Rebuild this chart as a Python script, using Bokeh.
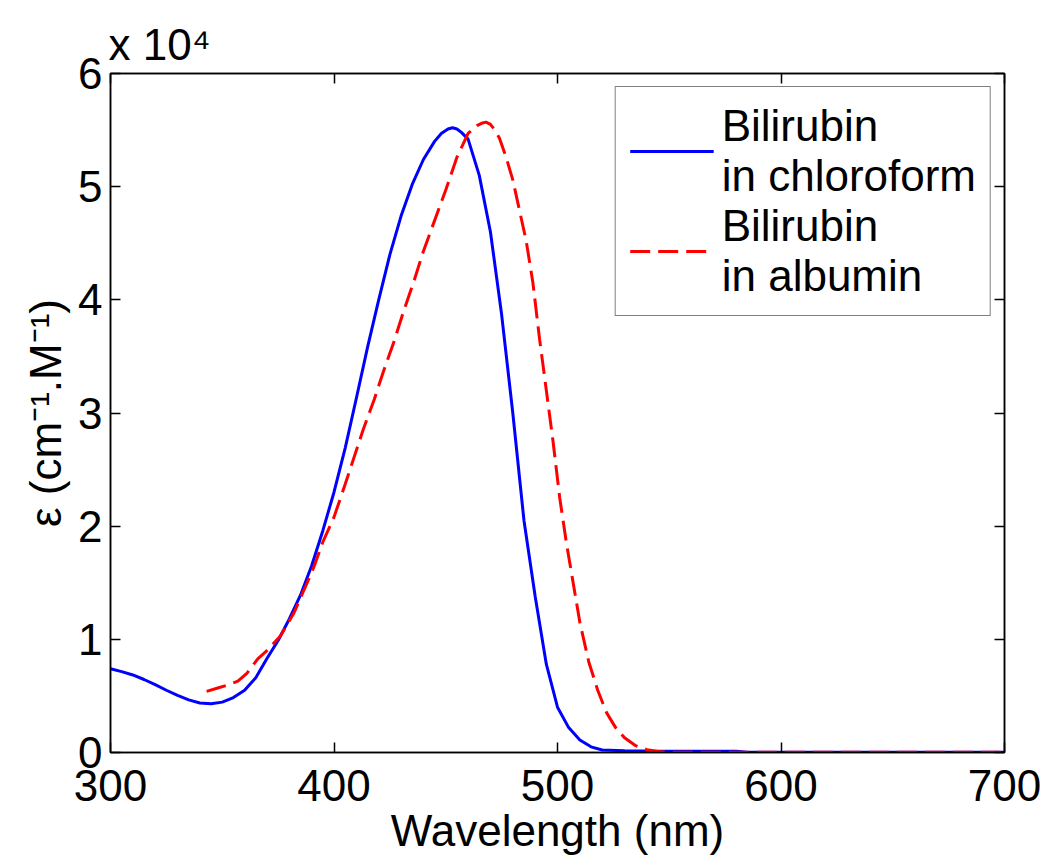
from bokeh.plotting import figure
from bokeh.models import Range1d, LinearAxis, FixedTicker, Legend, LegendItem
from bokeh.embed import file_html
from bokeh.resources import INLINE

# ---- data ----
wl_chloroform = [300, 305, 310, 315, 320, 325, 330, 335, 340, 345, 350, 355, 360, 365,
                 370, 375, 380, 385, 390, 395, 400, 405, 410, 415, 420, 425, 430, 435,
                 440, 445, 448, 451, 453, 455, 457, 460, 465, 470, 475, 480, 485, 490,
                 495, 500, 505, 510, 515, 520, 530, 540, 560, 580, 585, 600, 650, 700]
eps_chloroform = [7400, 7150, 6850, 6450, 6000, 5500, 5050, 4650, 4380, 4300, 4450, 4850,
                  5500, 6600, 8300, 9900, 11800, 13900, 16500, 19600, 23000, 26900, 31300,
                  35800, 40000, 44000, 47400, 50200, 52400, 54000, 54700, 55100, 55200,
                  55100, 54800, 54200, 51000, 46000, 38700, 30000, 20500, 13800, 7800,
                  4000, 2200, 1100, 500, 220, 150, 130, 120, 110, 30, 20, 20, 20]

wl_albumin = [343, 348, 353, 357, 361, 366, 370, 376, 382, 388, 391, 395, 400, 405, 409,
              413, 418, 422, 427, 431, 436, 440, 445, 450, 455, 460, 464, 466, 468, 470,
              472, 474, 477, 480, 483, 486, 489, 492, 495, 498, 501, 504, 507, 510, 514,
              518, 522, 526, 530, 535, 540, 545, 550, 600, 700]
eps_albumin = [5400, 5700, 6000, 6300, 7000, 8300, 9000, 10300, 12300, 15000, 16400, 18600,
               20800, 23700, 26100, 28500, 31200, 33600, 36400, 38900, 41800, 44300, 47000,
               49700, 52600, 54700, 55400, 55600, 55700, 55500, 55000, 54300, 52600, 50600,
               47900, 45200, 41500, 36500, 32000, 27500, 22500, 18500, 15000, 11500, 8000,
               5500, 3500, 2200, 1300, 600, 250, 80, 30, 20, 20]

series_labels = ["Bilirubin\nin chloroform", "Bilirubin\nin albumin"]
x_ticks = [300, 400, 500, 600, 700]
y_ticks = [0, 10000, 20000, 30000, 40000, 50000, 60000]
y_tick_labels = ["0", "1", "2", "3", "4", "5", "6"]
x_label = "Wavelength (nm)"
y_label = "\u03b5 (cm\u207b\u00b9.M\u207b\u00b9)"
multiplier_text = "x 10\u2074"

FONT = "Liberation Sans"
FS = "44px"

p = figure(width=1044, height=859, output_backend="svg", toolbar_location=None,
           x_range=Range1d(300, 700), y_range=Range1d(0, 60000),
           min_border_left=110, min_border_right=40, min_border_top=73,
           min_border_bottom=107)
p.background_fill_color = "white"
p.border_fill_color = "white"
p.outline_line_color = "black"
p.outline_line_width = 1.5
p.xgrid.visible = False
p.ygrid.visible = False

# multiplier shown as the title, top-left like MATLAB's exponent label
p.title.text = multiplier_text
p.title.align = "left"
p.title.offset = -2
p.title.standoff = 9
p.title.text_font = FONT
p.title.text_font_size = FS
p.title.text_font_style = "normal"
p.title.text_color = "black"

r1 = p.line(wl_chloroform, eps_chloroform, line_color="#0000FF", line_width=3)
r2 = p.line(wl_albumin, eps_albumin, line_color="#FF0000", line_width=3,
            line_dash="20 8")


def style_axis(ax, ticks, show_labels):
    ax.ticker = FixedTicker(ticks=ticks)
    ax.minor_tick_line_color = None
    ax.major_tick_in = 10
    ax.major_tick_out = 0
    ax.major_tick_line_color = "black"
    ax.major_tick_line_width = 1.5
    ax.axis_line_color = "black"
    ax.axis_line_width = 1.5
    ax.major_label_text_font = FONT
    ax.major_label_text_color = "black"
    ax.axis_label_text_font = FONT
    ax.axis_label_text_font_size = FS
    ax.axis_label_text_font_style = "normal"
    ax.axis_label_text_color = "black"
    if show_labels:
        ax.major_label_text_font_size = FS
    else:
        ax.major_label_text_font_size = "1px"
        ax.major_label_standoff = 0
        ax.major_label_overrides = {t: "" for t in ticks}


xa = p.xaxis[0]
style_axis(xa, x_ticks, True)
xa.axis_label = x_label
xa.major_label_standoff = 17
xa.axis_label_standoff = 2

ya = p.yaxis[0]
style_axis(ya, y_ticks, True)
ya.major_label_overrides = {t: s for t, s in zip(y_ticks, y_tick_labels)}
ya.axis_label = y_label
ya.major_label_standoff = 8
ya.axis_label_standoff = 5

top = LinearAxis()
style_axis(top, x_ticks, False)
p.add_layout(top, "above")
right = LinearAxis()
style_axis(right, y_ticks, False)
p.add_layout(right, "right")

legend = Legend(items=[LegendItem(label=series_labels[0], renderers=[r1]),
                       LegendItem(label=series_labels[1], renderers=[r2])],
                location="top_right")
legend.label_text_font = FONT
legend.label_text_font_size = FS
legend.label_text_line_height = 1.15
legend.label_text_color = "black"
legend.glyph_width = 84
legend.glyph_height = 20
legend.label_standoff = 8
legend.padding = 14
legend.spacing = 0
legend.margin = 13
legend.border_line_color = "black"
legend.border_line_width = 1.5
legend.background_fill_color = "white"
legend.background_fill_alpha = 1.0
p.add_layout(legend)

open("out.html", "w").write(file_html(p, INLINE))
